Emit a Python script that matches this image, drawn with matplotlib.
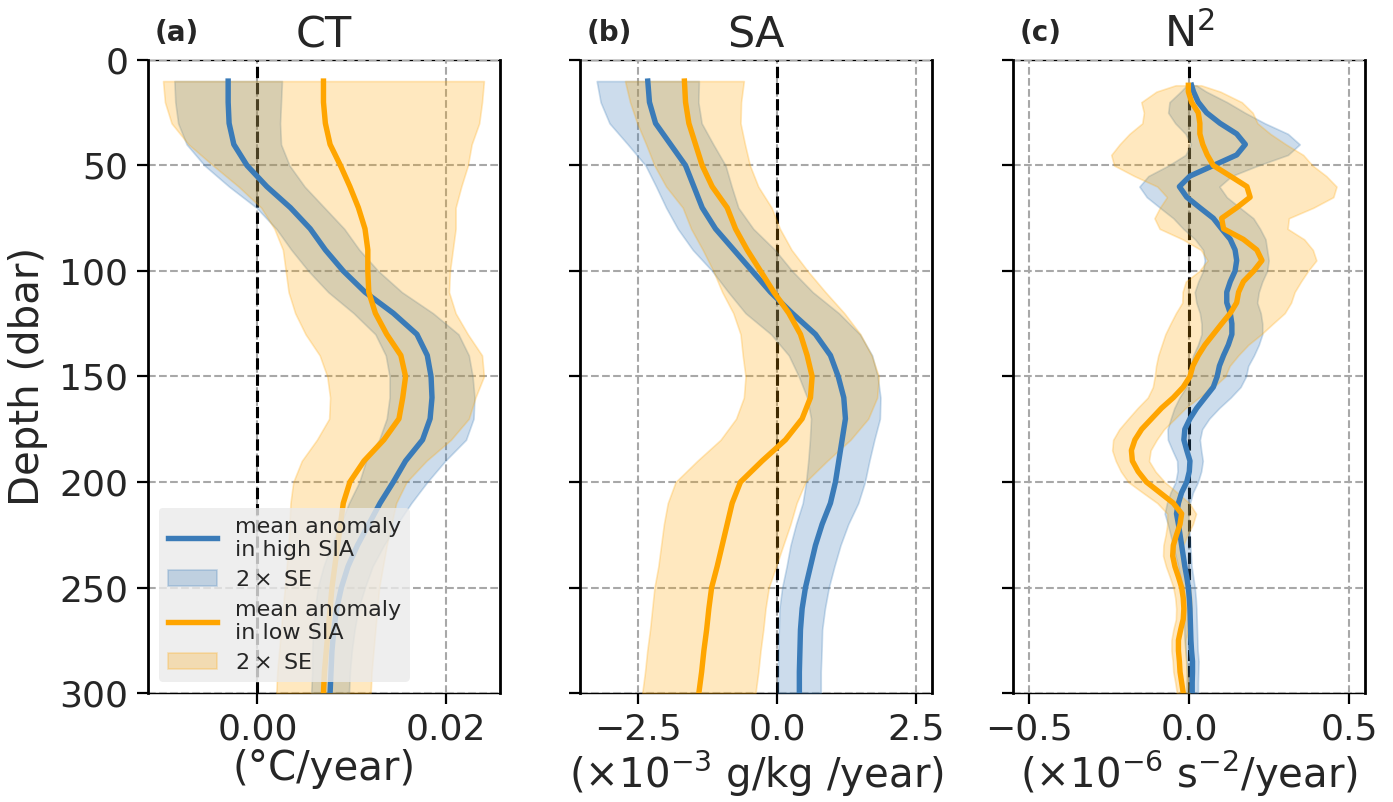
import numpy as np
import matplotlib.pyplot as plt

# depth levels (dbar)
depth_ab = np.arange(10, 301, 10)
depth_c = np.r_[12, np.arange(15, 301, 5)]

# (a) conservative temperature trend, degC/year
ct_high = [-0.0031, -0.0031, -0.0030, -0.0025, -0.0011, 0.0010, 0.0035, 0.0056, 0.0072, 0.0091,
           0.0114, 0.0144, 0.0169, 0.0180, 0.0184, 0.0185, 0.0183, 0.0175, 0.0157, 0.0144,
           0.0130, 0.0118, 0.0106, 0.0096, 0.0089, 0.0084, 0.0081, 0.0079, 0.0078, 0.0077]
ct_high_2se = [0.0057, 0.0056, 0.0054, 0.0050, 0.0045, 0.0040, 0.0036, 0.0036, 0.0036, 0.0037,
               0.0039, 0.0042, 0.0044, 0.0044, 0.0044, 0.0045, 0.0046, 0.0046, 0.0042, 0.0036,
               0.0033, 0.0030, 0.0028, 0.0026, 0.0025, 0.0023, 0.0022, 0.0021, 0.0020, 0.0020]
ct_low = [0.0070, 0.0070, 0.0072, 0.0077, 0.0088, 0.0098, 0.0107, 0.0114, 0.0117, 0.0117,
          0.0118, 0.0125, 0.0137, 0.0152, 0.0157, 0.0154, 0.0150, 0.0134, 0.0113, 0.0098,
          0.0091, 0.0088, 0.0085, 0.0082, 0.0079, 0.0077, 0.0075, 0.0073, 0.0071, 0.0070]
ct_low_2se = [0.0170, 0.0168, 0.0163, 0.0150, 0.0135, 0.0118, 0.0103, 0.0096, 0.0090, 0.0087,
              0.0085, 0.0085, 0.0086, 0.0086, 0.0083, 0.0077, 0.0074, 0.0071, 0.0066, 0.0060,
              0.0056, 0.0054, 0.0052, 0.0051, 0.0050, 0.0050, 0.0050, 0.0050, 0.0050, 0.0050]

# (b) absolute salinity trend, 1e-3 g/kg/year
sa_high = [-2.33, -2.30, -2.19, -1.92, -1.65, -1.50, -1.35, -1.11, -0.78, -0.45,
           -0.12, 0.27, 0.69, 0.96, 1.10, 1.20, 1.23, 1.17, 1.11, 1.05,
           0.96, 0.81, 0.69, 0.60, 0.51, 0.45, 0.42, 0.41, 0.40, 0.40]
sa_high_2se = [0.92, 0.88, 0.83, 0.77, 0.72, 0.68, 0.65, 0.68, 0.74, 0.72,
               0.76, 0.84, 0.80, 0.75, 0.71, 0.66, 0.62, 0.58, 0.55, 0.53,
               0.50, 0.47, 0.45, 0.43, 0.42, 0.41, 0.39, 0.39, 0.385, 0.385]
sa_low = [-1.67, -1.65, -1.59, -1.47, -1.35, -1.17, -0.90, -0.75, -0.54, -0.30,
          -0.06, 0.21, 0.42, 0.54, 0.63, 0.60, 0.45, 0.15, -0.27, -0.66,
          -0.81, -0.90, -0.99, -1.08, -1.18, -1.23, -1.27, -1.32, -1.36, -1.41]
sa_low_2se = [1.07, 1.00, 0.93, 0.89, 0.86, 0.83, 0.80, 0.80, 0.80, 0.85,
              0.93, 1.00, 1.08, 1.16, 1.20, 1.20, 1.19, 1.17, 1.17, 1.17,
              1.16, 1.14, 1.10, 1.06, 1.03, 1.02, 1.02, 1.02, 1.02, 1.02]

# (c) buoyancy frequency trend, 1e-6 s^-2/year
n2_high = [0.008, 0.014, 0.029, 0.055, 0.097, 0.149, 0.176, 0.149, 0.076, 0.003,
           -0.030, -0.007, 0.034, 0.076, 0.102, 0.129, 0.144, 0.149, 0.144, 0.129,
           0.118, 0.118, 0.129, 0.134, 0.134, 0.123, 0.108, 0.095, 0.088, 0.076,
           0.050, 0.024, 0.003, -0.013, -0.016, -0.007, 0.003, 0.001, -0.007, -0.023,
           -0.033, -0.039, -0.033, -0.028, -0.023, -0.018, -0.013, -0.007, -0.002, 0.001,
           0.003, 0.004, 0.005, 0.006, 0.008, 0.011, 0.011, 0.010, 0.010]
n2_high_2se = [0.015, 0.04, 0.09, 0.12, 0.14, 0.16, 0.17, 0.16, 0.14, 0.13,
               0.125, 0.125, 0.125, 0.125, 0.12, 0.11, 0.10, 0.10, 0.10, 0.10,
               0.10, 0.095, 0.095, 0.095, 0.095, 0.095, 0.095, 0.09, 0.09, 0.085,
               0.08, 0.07, 0.06, 0.054, 0.05, 0.045, 0.04, 0.037, 0.035, 0.035,
               0.036, 0.037, 0.033, 0.03, 0.027, 0.024, 0.021, 0.02, 0.02, 0.02,
               0.02, 0.02, 0.02, 0.02, 0.019, 0.019, 0.018, 0.018, 0.018]
n2_low = [-0.002, -0.002, 0.008, 0.029, 0.034, 0.034, 0.043, 0.057, 0.076, 0.129,
          0.181, 0.191, 0.149, 0.102, 0.108, 0.170, 0.212, 0.228, 0.202, 0.170,
          0.155, 0.149, 0.129, 0.102, 0.076, 0.050, 0.029, 0.012, 0.003, -0.018,
          -0.049, -0.086, -0.117, -0.148, -0.169, -0.180, -0.177, -0.159, -0.133, -0.091,
          -0.049, -0.023, -0.028, -0.039, -0.049, -0.051, -0.044, -0.033, -0.023, -0.018,
          -0.016, -0.018, -0.026, -0.033, -0.033, -0.030, -0.028, -0.023, -0.018]
n2_low_2se = [0.04, 0.10, 0.157, 0.17, 0.18, 0.22, 0.26, 0.30, 0.31, 0.30,
              0.28, 0.26, 0.24, 0.21, 0.20, 0.19, 0.175, 0.17, 0.17, 0.18,
              0.175, 0.17, 0.17, 0.16, 0.15, 0.135, 0.125, 0.115, 0.11, 0.095,
              0.08, 0.075, 0.073, 0.07, 0.068, 0.06, 0.052, 0.054, 0.057, 0.054,
              0.05, 0.045, 0.04, 0.034, 0.031, 0.03, 0.028, 0.027, 0.026, 0.025,
              0.024, 0.023, 0.023, 0.022, 0.022, 0.021, 0.021, 0.02, 0.02]

panels = [
    dict(letter="(a)", title="CT", depth=depth_ab,
         high=ct_high, high_se=ct_high_2se, low=ct_low, low_se=ct_low_2se,
         xlim=(-0.0116, 0.0257), xticks=[0.0, 0.02], xfmt="{:.2f}",
         xlabel="(°C/year)"),
    dict(letter="(b)", title="SA", depth=depth_ab,
         high=sa_high, high_se=sa_high_2se, low=sa_low, low_se=sa_low_2se,
         xlim=(-3.55, 2.79), xticks=[-2.5, 0.0, 2.5], xfmt="{:.1f}",
         xlabel=r"($\times 10^{-3}$ g/kg /year)"),
    dict(letter="(c)", title=r"N$^2$", depth=depth_c,
         high=n2_high, high_se=n2_high_2se, low=n2_low, low_se=n2_low_2se,
         xlim=(-0.55, 0.55), xticks=[-0.5, 0.0, 0.5], xfmt="{:.1f}",
         xlabel=r"($\times 10^{-6}$ s$^{-2}$/year)"),
]

BLUE = "#3a7bb8"
ORANGE = "#ffa500"
TXT = "#262626"

plt.rcParams["font.family"] = "DejaVu Sans"
plt.rcParams["mathtext.fontset"] = "dejavusans"
plt.rcParams["text.color"] = TXT
plt.rcParams["axes.labelcolor"] = TXT
plt.rcParams["xtick.color"] = TXT
plt.rcParams["ytick.color"] = TXT

fig = plt.figure(figsize=(13.93, 8.02), dpi=100)
lefts = [0.1062, 0.4164, 0.7272]

for i, p in enumerate(panels):
    ax = fig.add_axes([lefts[i], 0.1359, 0.2527, 0.7893])
    depth = p["depth"]
    hi, hi_se = np.array(p["high"]), np.array(p["high_se"])
    lo, lo_se = np.array(p["low"]), np.array(p["low_se"])

    ax.axvline(0, color="k", ls="--", lw=2.2, zorder=0.8)

    ax.plot(hi, depth, color=BLUE, lw=3.9, zorder=2, label="mean anomaly\nin high SIA")
    ax.fill_betweenx(depth, hi - hi_se, hi + hi_se, color=BLUE, alpha=0.26,
                     lw=1.2, zorder=1, label=r"$2\times$ SE")
    ax.plot(lo, depth, color=ORANGE, lw=3.9, zorder=2.1, label="mean anomaly\nin low SIA")
    ax.fill_betweenx(depth, lo - lo_se, lo + lo_se, color=ORANGE, alpha=0.25,
                     lw=1.2, zorder=1.1, label=r"$2\times$ SE")

    ax.set_ylim(300, 0)
    ax.set_yticks(np.arange(0, 301, 50))
    ax.set_xlim(*p["xlim"])
    ax.set_xticks(p["xticks"])
    ax.set_xticklabels([p["xfmt"].format(v).replace("-", "\u2212") for v in p["xticks"]])

    ax.set_axisbelow(True)
    ax.grid(True, color="#a8a8a8", ls="--", lw=1.5)
    for side in ["left", "right"]:
        ax.spines[side].set_linewidth(2.0)
        ax.spines[side].set_color("k")
    for side in ["top", "bottom"]:
        ax.spines[side].set_linewidth(1.0)
        ax.spines[side].set_color("k")
        ax.spines[side].set_zorder(0.4)

    ax.tick_params(axis="both", direction="out", length=8, width=1.6,
                   labelsize=26, pad=6, colors="k", labelcolor=TXT)
    if i > 0:
        ax.tick_params(axis="y", labelleft=False)
    else:
        ax.set_ylabel("Depth (dbar)", fontsize=29, labelpad=8)

    ax.set_xlabel(p["xlabel"], fontsize=29, labelpad=2)
    ax.set_title(p["title"], fontsize=31, pad=9)
    ax.text(0.02, 1.02, p["letter"], transform=ax.transAxes, fontsize=20,
            fontweight="bold", ha="left", va="bottom")

    if i == 0:
        ax.legend(loc="lower left", fontsize=16, facecolor="#eaeaea", edgecolor="none",
                  framealpha=0.8, handlelength=2.2, labelspacing=0.45,
                  borderaxespad=0.5)

fig.savefig("out.png", dpi=100)
